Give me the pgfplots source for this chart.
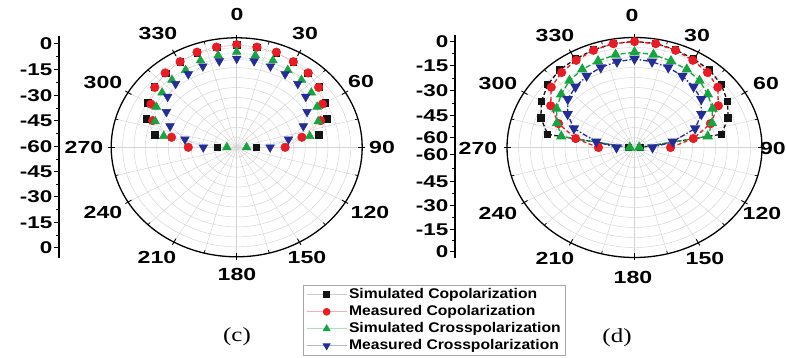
\documentclass[border=0pt]{standalone}
\usepackage{pgfplots}
\usepackage{pgfplotstable}
\usepackage{graphicx}
\pgfplotsset{compat=1.18}
\usepackage{fontspec}
\setmainfont{Liberation Sans}
\newfontfamily\capfont{Liberation Serif}

% wide bold labels
\newcommand{\lb}[1]{\scalebox{1.32}[1]{\bfseries #1}}
\newcommand{\lgd}[1]{\scalebox{1.12}[1]{\bfseries #1}}

\definecolor{cBlack}{RGB}{20,20,20}
\definecolor{cRed}{RGB}{232,28,36}
\definecolor{cGreen}{RGB}{22,163,64}
\definecolor{cBlue}{RGB}{36,44,150}
\definecolor{gridc}{RGB}{212,212,212}

% radiation patterns (dB); a = angle in degrees
% sc: simulated co, mc: measured co, sx: simulated cross, mx: measured cross
\pgfplotstableread{
a    sc     mc     sx     mx
-90 -50.2  -35.5  -55.0  -43.1
-80 -17.9  -26.5  -22.5  -33.4
-70 -11.4  -14.8  -16.1  -24.1
-60  -8.2   -9.9  -13.0  -18.9
-50  -5.6   -5.9  -10.7  -14.4
-40  -4.0   -3.7   -9.0  -11.9
-30  -2.9   -2.7   -8.3  -11.0
-20  -1.6   -1.3   -6.4  -10.0
-10  -1.1   -1.0   -5.9   -9.3
  0  -0.6   -0.5   -4.7   -8.6
 10  -1.1   -1.0   -5.9   -9.3
 20  -1.6   -1.3   -6.4  -10.0
 30  -2.9   -2.7   -8.3  -11.0
 40  -4.0   -3.7   -9.0  -11.9
 50  -5.6   -5.9  -10.7  -14.4
 60  -8.2   -9.9  -13.0  -18.9
 70 -11.4  -14.8  -16.1  -24.1
 80 -17.9  -26.5  -22.5  -33.4
 90 -50.2  -35.5  -55.0  -43.1
}\tabC

\pgfplotstableread{
a    sc     mc     sx     mx
-90 -62.0  -46.0  -62.5  -55.5
-80 -18.5  -33.5  -25.8  -44.5
-70 -12.5  -22.4  -21.5  -31.0
-60  -8.4  -14.0  -17.6  -24.3
-50  -5.3   -7.7  -14.5  -19.1
-40  -3.3   -5.2  -11.7  -16.6
-30  -2.6   -3.5   -9.9  -14.5
-20  -1.5   -1.8   -8.8  -13.0
-10  -0.5   -0.6   -7.4  -11.8
  0  -0.2   -0.3   -6.8  -10.9
 10  -0.5   -0.6   -7.4  -11.8
 20  -1.5   -1.8   -8.8  -13.0
 30  -2.6   -3.5   -9.9  -14.5
 40  -3.3   -5.2  -11.7  -16.6
 50  -5.3   -7.7  -14.5  -19.1
 60  -8.4  -14.0  -17.6  -24.3
 70 -12.5  -22.4  -21.5  -31.0
 80 -18.5  -33.5  -25.8  -44.5
 90 -62.0  -46.0  -62.5  -55.5
}\tabD

% polar frame: centre (#1,#2), radii (#3,#4)
\newcommand{\polarframe}[4]{%
  \foreach \k in {1,...,10}{%
    \draw[gridc, line width=0.45pt] (#1,#2) ellipse [x radius={#3*\k/11}, y radius={#4*\k/11}];
  }
  \foreach \a in {0,15,...,345}{%
    \draw[gridc, line width=0.45pt] (#1,#2) -- ({#1+#3*sin(\a)},{#2+#4*cos(\a)});
  }
  \draw[black, line width=1.3pt] (#1,#2) ellipse [x radius=#3, y radius=#4];
  \foreach \a in {0,30,...,330}{%
    \draw[black, line width=0.9pt] ({#1+(#3-4)*sin(\a)},{#2+(#4-4)*cos(\a)}) -- ({#1+(#3+3)*sin(\a)},{#2+(#4+3)*cos(\a)});
  }
  \foreach \a in {15,45,...,345}{%
    \draw[black, line width=0.7pt] ({#1+(#3-3)*sin(\a)},{#2+(#4-3)*cos(\a)}) -- ({#1+#3*sin(\a)},{#2+#4*cos(\a)});
  }
}

\tikzset{lab/.style={font=\fontsize{17.5}{18}\selectfont, inner sep=0pt}}

\begin{document}
\begin{tikzpicture}[x=1pt,y=1pt]
\path[use as bounding box] (0,0) rectangle (786,358);

% ---------- panel (c) frame ----------
\polarframe{236.7}{210.7}{125.5}{109.5}
\node[lab] at (237,344) {\lb{0}};
\node[lab] at (305,325) {\lb{30}};
\node[lab] at (361,277) {\lb{60}};
\node[lab] at (382,211) {\lb{90}};
\node[lab] at (370,146) {\lb{120}};
\node[lab] at (307,101) {\lb{150}};
\node[lab] at (237,84) {\lb{180}};
\node[lab] at (157,101) {\lb{210}};
\node[lab] at (103,146) {\lb{240}};
\node[lab] at (84,211) {\lb{270}};
\node[lab] at (103,276) {\lb{300}};
\node[lab] at (158,325) {\lb{330}};

% ---------- panel (d) frame ----------
\polarframe{634.5}{210.5}{127.5}{110}
\node[lab] at (632,343) {\lb{0}};
\node[lab] at (697,323) {\lb{30}};
\node[lab] at (766,275) {\lb{60}};
\node[lab, anchor=east] at (786,210) {\lb{90}};
\node[lab] at (762,145) {\lb{120}};
\node[lab] at (705,100) {\lb{150}};
\node[lab] at (633,81) {\lb{180}};
\node[lab] at (555,100) {\lb{210}};
\node[lab] at (498,145) {\lb{240}};
\node[lab] at (478,210) {\lb{270}};
\node[lab] at (498,275) {\lb{300}};
\node[lab] at (555,323) {\lb{330}};

% ---------- panel (c) data ----------
\begin{axis}[at={(236.7pt,210.7pt)}, anchor=center, scale only axis,
  width=251pt, height=219pt, xmin=-63.5, xmax=63.5, ymin=-63.5, ymax=63.5,
  hide axis, clip=false]
\addplot[cBlack!40, line width=0.5pt, densely dotted, mark=square*, mark size=3.3pt,
  mark options={solid, fill=cBlack, draw=cBlack}]
  table[x expr={(\thisrow{sc}+60)*sin(\thisrow{a})}, y expr={(\thisrow{sc}+60)*cos(\thisrow{a})}] {\tabC};
\addplot[cRed!45, line width=0.5pt, densely dotted, mark=*, mark size=4.3pt,
  mark options={solid, fill=cRed, draw=cRed}]
  table[x expr={(\thisrow{mc}+60)*sin(\thisrow{a})}, y expr={(\thisrow{mc}+60)*cos(\thisrow{a})}] {\tabC};
\addplot[cGreen!45, line width=0.5pt, densely dotted, mark=triangle*, mark size=5pt,
  mark options={solid, fill=cGreen, draw=cGreen}]
  table[x expr={(\thisrow{sx}+60)*sin(\thisrow{a})}, y expr={(\thisrow{sx}+60)*cos(\thisrow{a})}] {\tabC};
\addplot[cBlue!45, line width=0.5pt, densely dotted, mark=triangle*, mark size=5pt,
  mark options={solid, fill=cBlue, draw=cBlue, rotate=180}]
  table[x expr={(\thisrow{mx}+60)*sin(\thisrow{a})}, y expr={(\thisrow{mx}+60)*cos(\thisrow{a})}] {\tabC};
\end{axis}

% ---------- panel (d) data ----------
\begin{axis}[at={(634.5pt,210.5pt)}, anchor=center, scale only axis,
  width=255pt, height=220pt, xmin=-67.2, xmax=67.2, ymin=-67.2, ymax=67.2,
  hide axis, clip=false]
\addplot[cBlack, line width=1.3pt, dash pattern=on 4pt off 2.5pt, mark=square*, mark size=3pt,
  mark options={solid, fill=cBlack, draw=cBlack}]
  table[x expr={(\thisrow{sc}+65)*sin(\thisrow{a})}, y expr={(\thisrow{sc}+65)*cos(\thisrow{a})}] {\tabD};
\addplot[cRed, line width=1.3pt, dash pattern=on 4pt off 2.5pt, mark=*, mark size=3.9pt,
  mark options={solid, fill=cRed, draw=cRed}]
  table[x expr={(\thisrow{mc}+65)*sin(\thisrow{a})}, y expr={(\thisrow{mc}+65)*cos(\thisrow{a})}] {\tabD};
\addplot[cGreen, line width=1.3pt, dash pattern=on 5pt off 2.5pt, mark=triangle*, mark size=4.8pt,
  mark options={solid, fill=cGreen, draw=cGreen}]
  table[x expr={(\thisrow{sx}+65)*sin(\thisrow{a})}, y expr={(\thisrow{sx}+65)*cos(\thisrow{a})}] {\tabD};
\addplot[cBlue, line width=1.3pt, dash pattern=on 5pt off 2pt on 1.5pt off 2pt, mark=triangle*, mark size=4.8pt,
  mark options={solid, fill=cBlue, draw=cBlue, rotate=180}]
  table[x expr={(\thisrow{mx}+65)*sin(\thisrow{a})}, y expr={(\thisrow{mx}+65)*cos(\thisrow{a})}] {\tabD};
\end{axis}

% ---------- radial scale of (c) ----------
\begin{axis}[at={(59pt,322pt)}, anchor=north west, scale only axis,
  width=1pt, height=222pt, xmin=0, xmax=1, ymin=36, ymax=258, y dir=reverse,
  axis x line=none, axis y line=left, axis line style={-, line width=1.2pt, black},
  ytick={44,70,96,121,147,172,197,223,248},
  yticklabels={\lb{0},\lb{-15},\lb{-30},\lb{-45},\lb{-60},\lb{-45},\lb{-30},\lb{-15},\lb{0}},
  minor ytick={57,83,108.5,134,159.5,184.5,210,235.5},
  tick align=outside, major tick length=5pt, minor tick length=3pt,
  tick style={line width=1pt, black},
  yticklabel style={font=\fontsize{17}{17}\selectfont, inner sep=1.5pt}]
\end{axis}

% ---------- radial scale of (d) ----------
\begin{axis}[at={(455pt,323pt)}, anchor=north west, scale only axis,
  width=1pt, height=223pt, xmin=0, xmax=1, ymin=35, ymax=258, y dir=reverse,
  axis x line=none, axis y line=left, axis line style={-, line width=1.2pt, black},
  ytick={42,66,91,116,138,155,182,206,230,252},
  yticklabels={\lb{0},\lb{-15},\lb{-30},\lb{-45},\lb{-60},\lb{-60},\lb{-45},\lb{-30},\lb{-15},\lb{0}},
  minor ytick={54,78.5,103.5,127,168.5,194,218,241},
  tick align=outside, major tick length=5pt, minor tick length=3pt,
  tick style={line width=1pt, black},
  yticklabel style={font=\fontsize{17}{17}\selectfont, inner sep=1.5pt}]
\end{axis}

% ---------- legend ----------
\begin{axis}[at={(303pt,73pt)}, anchor=north west, scale only axis, hide axis,
  width=10pt, height=10pt, xmin=0, xmax=1, ymin=0, ymax=1,
  legend style={at={(0,1)}, anchor=north west, draw=gray!70, line width=0.6pt,
    fill=white, font=\fontsize{14}{14}\selectfont,
    inner xsep=3pt, inner ysep=1pt, row sep=0pt,
    nodes={text height=10pt, text depth=3pt, inner sep=2pt}},
  legend cell align=left,
  legend image code/.code={\draw[mark repeat=2, mark phase=2, #1]
    plot coordinates {(0pt,0pt) (20pt,0pt) (40pt,0pt)};}]
\addlegendimage{gray!40, line width=0.7pt, mark=square*, mark size=3pt, mark options={fill=cBlack, draw=cBlack}}
\addlegendentry{\lgd{Simulated Copolarization}}
\addlegendimage{cRed!35, line width=0.7pt, mark=*, mark size=3.5pt, mark options={fill=cRed, draw=cRed}}
\addlegendentry{\lgd{Measured Copolarization}}
\addlegendimage{cGreen!35, line width=0.7pt, mark=triangle*, mark size=4pt, mark options={fill=cGreen, draw=cGreen}}
\addlegendentry{\lgd{Simulated Crosspolarization}}
\addlegendimage{cBlue!35, line width=0.7pt, mark=triangle*, mark size=4pt, mark options={fill=cBlue, draw=cBlue, rotate=180}}
\addlegendentry{\lgd{Measured Crosspolarization}}
\end{axis}

% ---------- panel captions ----------
\node[font=\capfont\fontsize{20}{20}\selectfont, inner sep=0pt] at (237,21) {\scalebox{1.25}[1]{(c)}};
\node[font=\capfont\fontsize{20}{20}\selectfont, inner sep=0pt] at (617,20) {\scalebox{1.25}[1]{(d)}};
\end{tikzpicture}
\end{document}
